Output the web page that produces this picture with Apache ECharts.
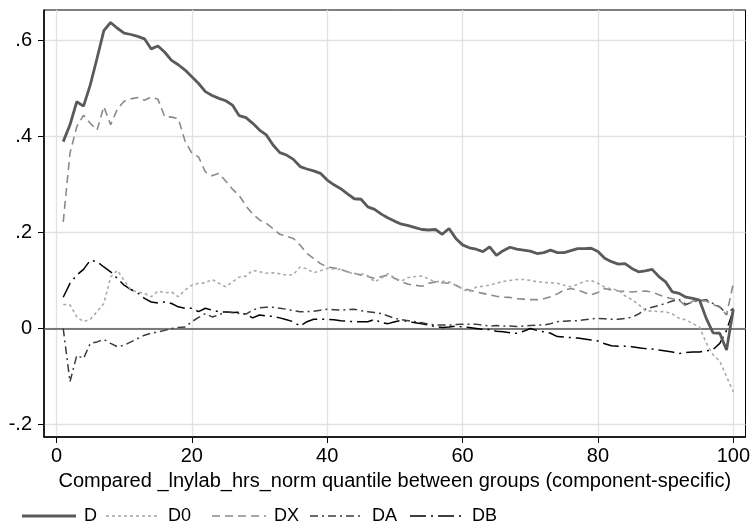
<!DOCTYPE html>
<html>
<head>
<meta charset="utf-8">
<script src="https://cdn.jsdelivr.net/npm/echarts@6/dist/echarts.min.js"></script>
<style>html,body{margin:0;padding:0;background:#fff}#c{width:753px;height:529px}</style>
</head>
<body>
<div id="c"></div>
<script>
var quantiles = [1,2,3,4,5,6,7,8,9,10,11,12,13,14,15,16,17,18,19,20,21,22,23,24,25,26,27,28,29,30,31,32,33,34,35,36,37,38,39,40,41,42,43,44,45,46,47,48,49,50,51,52,53,54,55,56,57,58,59,60,61,62,63,64,65,66,67,68,69,70,71,72,73,74,75,76,77,78,79,80,81,82,83,84,85,86,87,88,89,90,91,92,93,94,95,96,97,98,99,100];

var D = [0.389,0.424,0.472,0.463,0.507,0.5625,0.62,0.637,0.625,0.615,0.612,0.608,0.603,0.582,0.588,0.575,0.558,0.549,0.538,0.524,0.51,0.493,0.485,0.479,0.474,0.465,0.443,0.439,0.427,0.413,0.403,0.382,0.366,0.361,0.352,0.337,0.332,0.328,0.323,0.309,0.299,0.291,0.28,0.27,0.269,0.253,0.248,0.238,0.23,0.223,0.217,0.214,0.21,0.206,0.205,0.206,0.196,0.208,0.1875,0.174,0.168,0.165,0.16,0.17,0.152,0.162,0.169,0.165,0.163,0.161,0.156,0.158,0.163,0.158,0.158,0.162,0.166,0.166,0.167,0.16,0.146,0.139,0.134,0.135,0.125,0.118,0.12,0.123,0.108,0.097,0.076,0.073,0.065,0.0625,0.059,0.021,-0.009,-0.01,-0.045,0.04];

var D0 = [0.05,0.049,0.024,0.014,0.019,0.035,0.052,0.107,0.121,0.1,0.08,0.076,0.073,0.066,0.078,0.074,0.076,0.066,0.08,0.09,0.094,0.095,0.102,0.094,0.087,0.097,0.107,0.109,0.121,0.118,0.115,0.116,0.114,0.111,0.112,0.128,0.124,0.116,0.12,0.125,0.124,0.123,0.117,0.114,0.114,0.11,0.097,0.105,0.114,0.105,0.099,0.106,0.108,0.109,0.103,0.097,0.098,0.097,0.09,0.082,0.076,0.086,0.088,0.09,0.094,0.098,0.1,0.102,0.102,0.1,0.097,0.096,0.095,0.094,0.09,0.087,0.092,0.098,0.1,0.094,0.086,0.082,0.08,0.068,0.06,0.05,0.037,0.036,0.035,0.035,0.03,0.021,0.018,0.01,0.003,-0.03,-0.055,-0.068,-0.1,-0.132];

var DX = [0.222,0.365,0.42,0.444,0.427,0.413,0.462,0.424,0.457,0.473,0.478,0.481,0.475,0.482,0.477,0.441,0.44,0.437,0.39,0.365,0.357,0.326,0.318,0.323,0.307,0.29,0.277,0.255,0.238,0.226,0.219,0.208,0.196,0.192,0.1875,0.1735,0.156,0.146,0.135,0.128,0.126,0.123,0.118,0.115,0.111,0.108,0.104,0.108,0.111,0.104,0.097,0.092,0.09,0.088,0.094,0.097,0.095,0.094,0.09,0.083,0.08,0.076,0.073,0.07,0.067,0.065,0.0646,0.062,0.061,0.06,0.06,0.062,0.066,0.072,0.08,0.083,0.08,0.075,0.07,0.075,0.083,0.08,0.078,0.077,0.076,0.077,0.078,0.076,0.07,0.065,0.062,0.059,0.046,0.057,0.057,0.057,0.05,0.044,0.028,0.094];

var DA = [0,-0.111,-0.056,-0.0625,-0.031,-0.028,-0.023,-0.031,-0.038,-0.035,-0.028,-0.021,-0.014,-0.01,-0.007,-0.004,0,0.002,0.003,0.014,0.023,0.031,0.024,0.028,0.035,0.033,0.031,0.03,0.038,0.043,0.044,0.044,0.042,0.04,0.037,0.035,0.035,0.036,0.038,0.04,0.039,0.038,0.039,0.04,0.037,0.035,0.033,0.031,0.026,0.021,0.018,0.016,0.014,0.012,0.009,0.007,0.007,0.007,0.008,0.009,0.009,0.009,0.007,0.005,0.006,0.005,0.005,0.004,0.005,0.006,0.007,0.007,0.01,0.014,0.015,0.016,0.016,0.018,0.02,0.021,0.02,0.019,0.019,0.021,0.023,0.03,0.04,0.044,0.048,0.052,0.057,0.06,0.05,0.055,0.058,0.06,0.052,0.045,0.03,0.042];

var DB = [0.065,0.094,0.111,0.123,0.142,0.139,0.128,0.118,0.104,0.09,0.081,0.074,0.0625,0.055,0.053,0.055,0.052,0.045,0.042,0.042,0.035,0.042,0.038,0.035,0.034,0.033,0.034,0.029,0.022,0.028,0.026,0.025,0.022,0.018,0.014,0.005,0.014,0.019,0.019,0.019,0.018,0.016,0.015,0.014,0.014,0.014,0.019,0.012,0.01,0.014,0.017,0.014,0.012,0.01,0.007,0.004,0.002,0.003,0.005,0.003,0.002,0,-0.002,-0.002,-0.006,-0.007,-0.009,-0.01,-0.006,0,-0.004,-0.007,-0.01,-0.017,-0.018,-0.019,-0.02,-0.022,-0.024,-0.026,-0.032,-0.036,-0.037,-0.037,-0.038,-0.04,-0.042,-0.043,-0.045,-0.047,-0.049,-0.052,-0.05,-0.049,-0.049,-0.047,-0.044,-0.031,-0.004,0.038];

var seriesNames = ['D','D0','DX','DA','DB'];
var xTicks = [0,20,40,60,80,100];
var yTicks = [-0.2,0,0.2,0.4,0.6];
var xTitle = 'Compared _lnylab_hrs_norm quantile between groups (component-specific)';

function pairs(vals){ return quantiles.map(function(q,i){ return [q, vals[i]]; }); }

var FONT = 'Liberation Sans, Arial, sans-serif';
var styles = [
  {color:'#5a5a5a', width:2.8, type:'solid'},
  {color:'#ababab', width:1.6, type:[3,3]},
  {color:'#8a8a8a', width:1.6, type:[8,5]},
  {color:'#3c3c3c', width:1.5, type:[8,4,2,4]},
  {color:'#000000', width:1.5, type:[16,5,2,5]}
];
var dataSets = [D, D0, DX, DA, DB];

var series = seriesNames.map(function(n, i){
  return {
    name: n, type: 'line', data: pairs(dataSets[i]), symbol: 'none', smooth: false,
    lineStyle: {color: styles[i].color, width: styles[i].width, type: styles[i].type},
    itemStyle: {color: styles[i].color},
    z: 10 - i
  };
});
series.push({
  type: 'line', data: [], silent: true,
  markLine: {symbol: 'none', silent: true, label: {show: false},
    lineStyle: {color: '#555', width: 1.5, type: 'solid'},
    data: [{yAxis: 0}], animation: false}
});

// legend drawn as graphic (key line + label)
var legendKeyX = [22, 106, 212, 310, 410];
var legendKeyW = 54;
var legendTextOffset = 62;
var legendY = 516;
var legendGraphics = [];
seriesNames.forEach(function(n, i){
  var st = styles[i];
  legendGraphics.push({
    type: 'line', silent: true,
    shape: {x1: legendKeyX[i], y1: legendY, x2: legendKeyX[i] + legendKeyW, y2: legendY},
    style: {stroke: st.color, lineWidth: st.width, lineDash: st.type === 'solid' ? null : st.type}
  });
  legendGraphics.push({
    type: 'text', silent: true,
    x: legendKeyX[i] + legendTextOffset, y: legendY,
    style: {text: n, fontFamily: FONT, fontSize: 18, fill: '#000', verticalAlign: 'middle', align: 'left'}
  });
});

var chart = echarts.init(document.getElementById('c'), null, {renderer: 'canvas'});
chart.setOption({
  animation: false,
  backgroundColor: '#fff',
  grid: {left: 44, top: 10, right: 6, bottom: 92, show: true, borderColor: '#000', borderWidth: 1, backgroundColor: 'transparent'},
  xAxis: {
    type: 'value', min: -1.84, max: 101.8,
    name: xTitle, nameLocation: 'middle', nameGap: 34,
    nameTextStyle: {fontFamily: FONT, fontSize: 20, color: '#000'},
    axisLine: {show: true, onZero: false, lineStyle: {color: '#000', width: 1.5}},
    axisTick: {show: true, length: 6, customValues: xTicks, lineStyle: {color: '#000', width: 1}},
    axisLabel: {customValues: xTicks, fontFamily: FONT, fontSize: 20, color: '#000', margin: 9},
    splitLine: {show: true, lineStyle: {color: '#e2e2e2', width: 1.3}}
  },
  yAxis: {
    type: 'value', min: -0.226, max: 0.663,
    axisLine: {show: true, onZero: false, lineStyle: {color: '#000', width: 1.5}},
    axisTick: {show: true, length: 6, customValues: yTicks, lineStyle: {color: '#000', width: 1}},
    axisLabel: {customValues: yTicks, fontFamily: FONT, fontSize: 20, color: '#000', margin: 12,
      formatter: function(v){ if (Math.abs(v) < 1e-9) return '0'; var s = Math.abs(v).toFixed(1).replace(/^0/, ''); return (v < 0 ? '-' : '') + s; }},
    splitLine: {show: true, lineStyle: {color: '#e2e2e2', width: 1.3}}
  },
  graphic: legendGraphics,
  series: series
});
</script>
</body>
</html>
